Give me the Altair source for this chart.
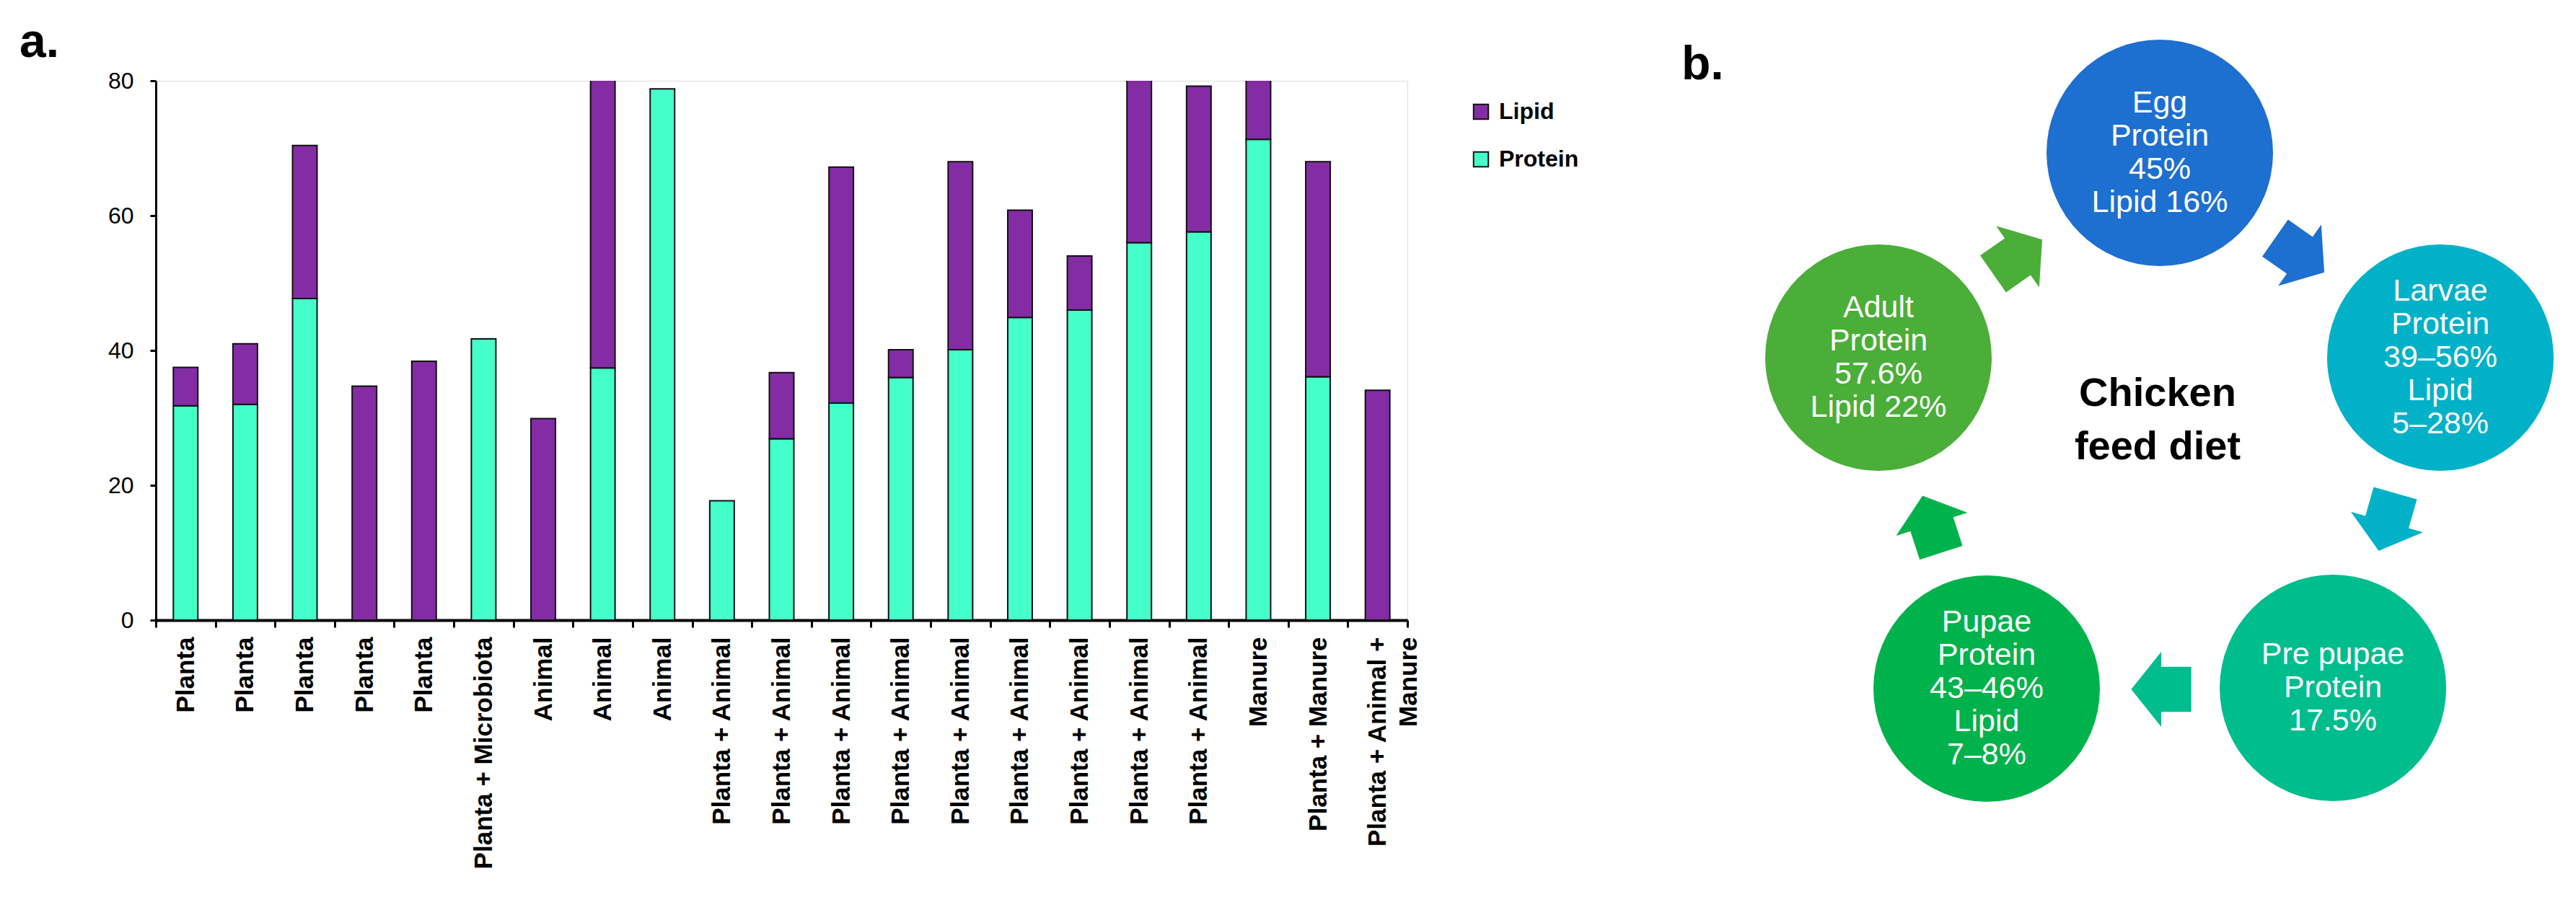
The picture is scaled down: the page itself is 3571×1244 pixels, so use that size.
import altair as alt
import pandas as pd

# ---------------- Panel a data ----------------
categories = [
    "Planta", "Planta", "Planta", "Planta", "Planta",
    "Planta + Microbiota", "Animal", "Animal", "Animal",
    "Planta + Animal", "Planta + Animal", "Planta + Animal", "Planta + Animal",
    "Planta + Animal", "Planta + Animal", "Planta + Animal", "Planta + Animal",
    "Planta + Animal", "Manure", "Planta + Manure", "Planta + Animal + Manure",
]
protein = [31.8, 32.0, 47.7, 0, 0, 41.7, 0, 37.4, 78.8, 17.7, 26.9, 32.2, 36.0,
           40.1, 44.9, 46.0, 56.0, 57.6, 71.3, 36.1, 0]
lipid = [5.7, 9.0, 22.7, 34.7, 38.4, 0, 29.9, 44.6, 0, 0, 9.8, 35.0, 4.1,
         27.9, 15.9, 8.0, 26.0, 21.6, 10.7, 31.9, 34.1]
series = ["Lipid", "Protein"]

# ---------------- Panel b data ----------------
stage_text = [
    "Egg\nProtein\n45%\nLipid 16%",
    "Larvae\nProtein\n39–56%\nLipid\n5–28%",
    "Pre pupae\nProtein\n17.5%",
    "Pupae\nProtein\n43–46%\nLipid\n7–8%",
    "Adult\nProtein\n57.6%\nLipid 22%",
]
center_text = "Chicken\nfeed diet"
panel_labels = ["a.", "b."]

# ---------------- layout / styles ----------------
LIPID_C = "#842CA3"
PROTEIN_C = "#44FFCA"
stage_colors = ["#1D6FD0", "#00B1C7", "#00BD8D", "#00B24B", "#4AAE39"]
stage_x = [2994, 3383, 3234, 2754, 2604]
stage_y = [212, 496, 954, 955, 496]
arrow_x = [3188, 3309, 2996, 2678, 2797]
arrow_y = [354, 724, 956, 727, 356]
arrow_angle = [35, 106, 180, 252, 325]
label_x = [27, 2331]
label_y = [79, 110]
LINE_H = 46

FONT = "Liberation Sans"
PW, PH = 1735, 748          # plot area of panel a
OX, OY = 216, 112           # its top-left corner on the page

rows = []
for i, (p, l) in enumerate(zip(protein, lipid)):
    if p > 0:
        rows.append({"idx": i, "nutrient": "Protein", "value": p, "ord": 0})
    if l > 0:
        rows.append({"idx": i, "nutrient": "Lipid", "value": l, "ord": 1})
bars_df = pd.DataFrame(rows)

names = [c for c in categories]
names[-1] = "Planta + Animal +|Manure" + "\u00a0" * 9
arr = "[" + ",".join("'" + n + "'" for n in names) + "]"
label_expr = (f"isValid(datum.value) && datum.value >= 0 && datum.value < {len(names)} "
              f"? split({arr}[datum.value], '|') : ''")

bars = alt.Chart(bars_df).mark_bar(width=34, stroke="#111111", strokeWidth=2, clip=True).encode(
    x=alt.X("idx:O", title=None,
            scale=alt.Scale(paddingInner=0, paddingOuter=0),
            axis=alt.Axis(labelExpr=label_expr, labelAngle=270, labelFontSize=35,
                          labelFontWeight="bold", labelFont=FONT, labelColor="black",
                          labelPadding=13, tickSize=10, tickWidth=3, tickColor="black",
                          domainColor="black", domainWidth=4, labelLimit=0,
                          labelOverlap=False, labelLineHeight=43, tickBand="extent",
                          labelBound=False, grid=False)),
    y=alt.Y("value:Q", stack="zero", title=None,
            scale=alt.Scale(domain=[0, 80], nice=False),
            axis=alt.Axis(values=[0, 20, 40, 60, 80], labelFontSize=32, labelFont=FONT,
                          labelColor="black", domainColor="black", domainWidth=3,
                          tickColor="black", tickWidth=3, tickSize=8, labelPadding=23,
                          grid=False)),
    color=alt.Color("nutrient:N",
                    scale=alt.Scale(domain=series, range=[LIPID_C, PROTEIN_C]),
                    legend=alt.Legend(orient="none", legendX=1821, legendY=27, title=None,
                                      symbolType="square", symbolSize=420,
                                      symbolStrokeWidth=2, symbolStrokeColor="#111111",
                                      labelFontSize=32, labelFontWeight="bold",
                                      labelFont=FONT, labelColor="black", rowPadding=34,
                                      labelOffset=9, padding=0, symbolOpacity=1)),
    order=alt.Order("ord:Q", sort="ascending"),
)

sx = alt.Scale(domain=[OX, OX + PW], range=[0, PW], nice=False, zero=False)
sy = alt.Scale(domain=[OY, OY + PH], range=[0, PH], nice=False, zero=False)

text_y = [y - t.count("\n") * LINE_H / 2 for y, t in zip(stage_y, stage_text)]
stage_df = pd.DataFrame({"x": stage_x, "y": stage_y, "ty": text_y,
                         "color": stage_colors, "text": stage_text})
arrow_df = pd.DataFrame({"x": arrow_x, "y": arrow_y, "angle": arrow_angle, "color": stage_colors})
center_df = pd.DataFrame({"x": [2991], "y": [563], "text": [center_text]})
lab_df = pd.DataFrame({"x": label_x, "y": label_y, "text": panel_labels})

ARROW = "M -0.8 -0.6 L 0 -0.6 L 0 -1 L 0.8 0 L 0 1 L 0 0.6 L -0.8 0.6 Z"

circles = alt.Chart(stage_df).mark_circle(opacity=1, size=314 * 314).encode(
    x=alt.X("x:Q", scale=sx, axis=None),
    y=alt.Y("y:Q", scale=sy, axis=None),
    color=alt.Color("color:N", scale=None),
)
arrows = alt.Chart(arrow_df).mark_point(shape=ARROW, filled=True, opacity=1, size=104 * 104,
                                        strokeWidth=0).encode(
    x=alt.X("x:Q", scale=sx, axis=None),
    y=alt.Y("y:Q", scale=sy, axis=None),
    angle=alt.Angle("angle:Q", scale=None),
    color=alt.Color("color:N", scale=None),
)
stage_labels = alt.Chart(stage_df).mark_text(color="white", fontSize=43, font=FONT,
                                             lineBreak="\n", lineHeight=LINE_H,
                                             baseline="middle", align="center").encode(
    x=alt.X("x:Q", scale=sx, axis=None),
    y=alt.Y("ty:Q", scale=sy, axis=None),
    text="text:N",
)
center = alt.Chart(center_df).mark_text(color="black", fontSize=56, fontWeight="bold",
                                        font=FONT, lineBreak="\n", lineHeight=74,
                                        baseline="alphabetic", align="center").encode(
    x=alt.X("x:Q", scale=sx, axis=None),
    y=alt.Y("y:Q", scale=sy, axis=None),
    text="text:N",
)
plabels = alt.Chart(lab_df).mark_text(color="black", fontSize=66, fontWeight="bold",
                                      font=FONT, baseline="alphabetic", align="left").encode(
    x=alt.X("x:Q", scale=sx, axis=None),
    y=alt.Y("y:Q", scale=sy, axis=None),
    text="text:N",
)

chart = alt.layer(bars, circles, arrows, stage_labels, center, plabels).resolve_scale(
    x="independent", y="independent", color="independent"
).properties(
    width=PW, height=PH,
    padding={"left": OX - 8, "top": OY - 8, "right": 3571 - 16 - (OX - 8) - PW, "bottom": 372},
    autosize=alt.AutoSizeParams(type="none"),
).configure_view(stroke=None).configure(background="white")

chart.save("out.html", embed_options={"renderer": "svg", "actions": False})
